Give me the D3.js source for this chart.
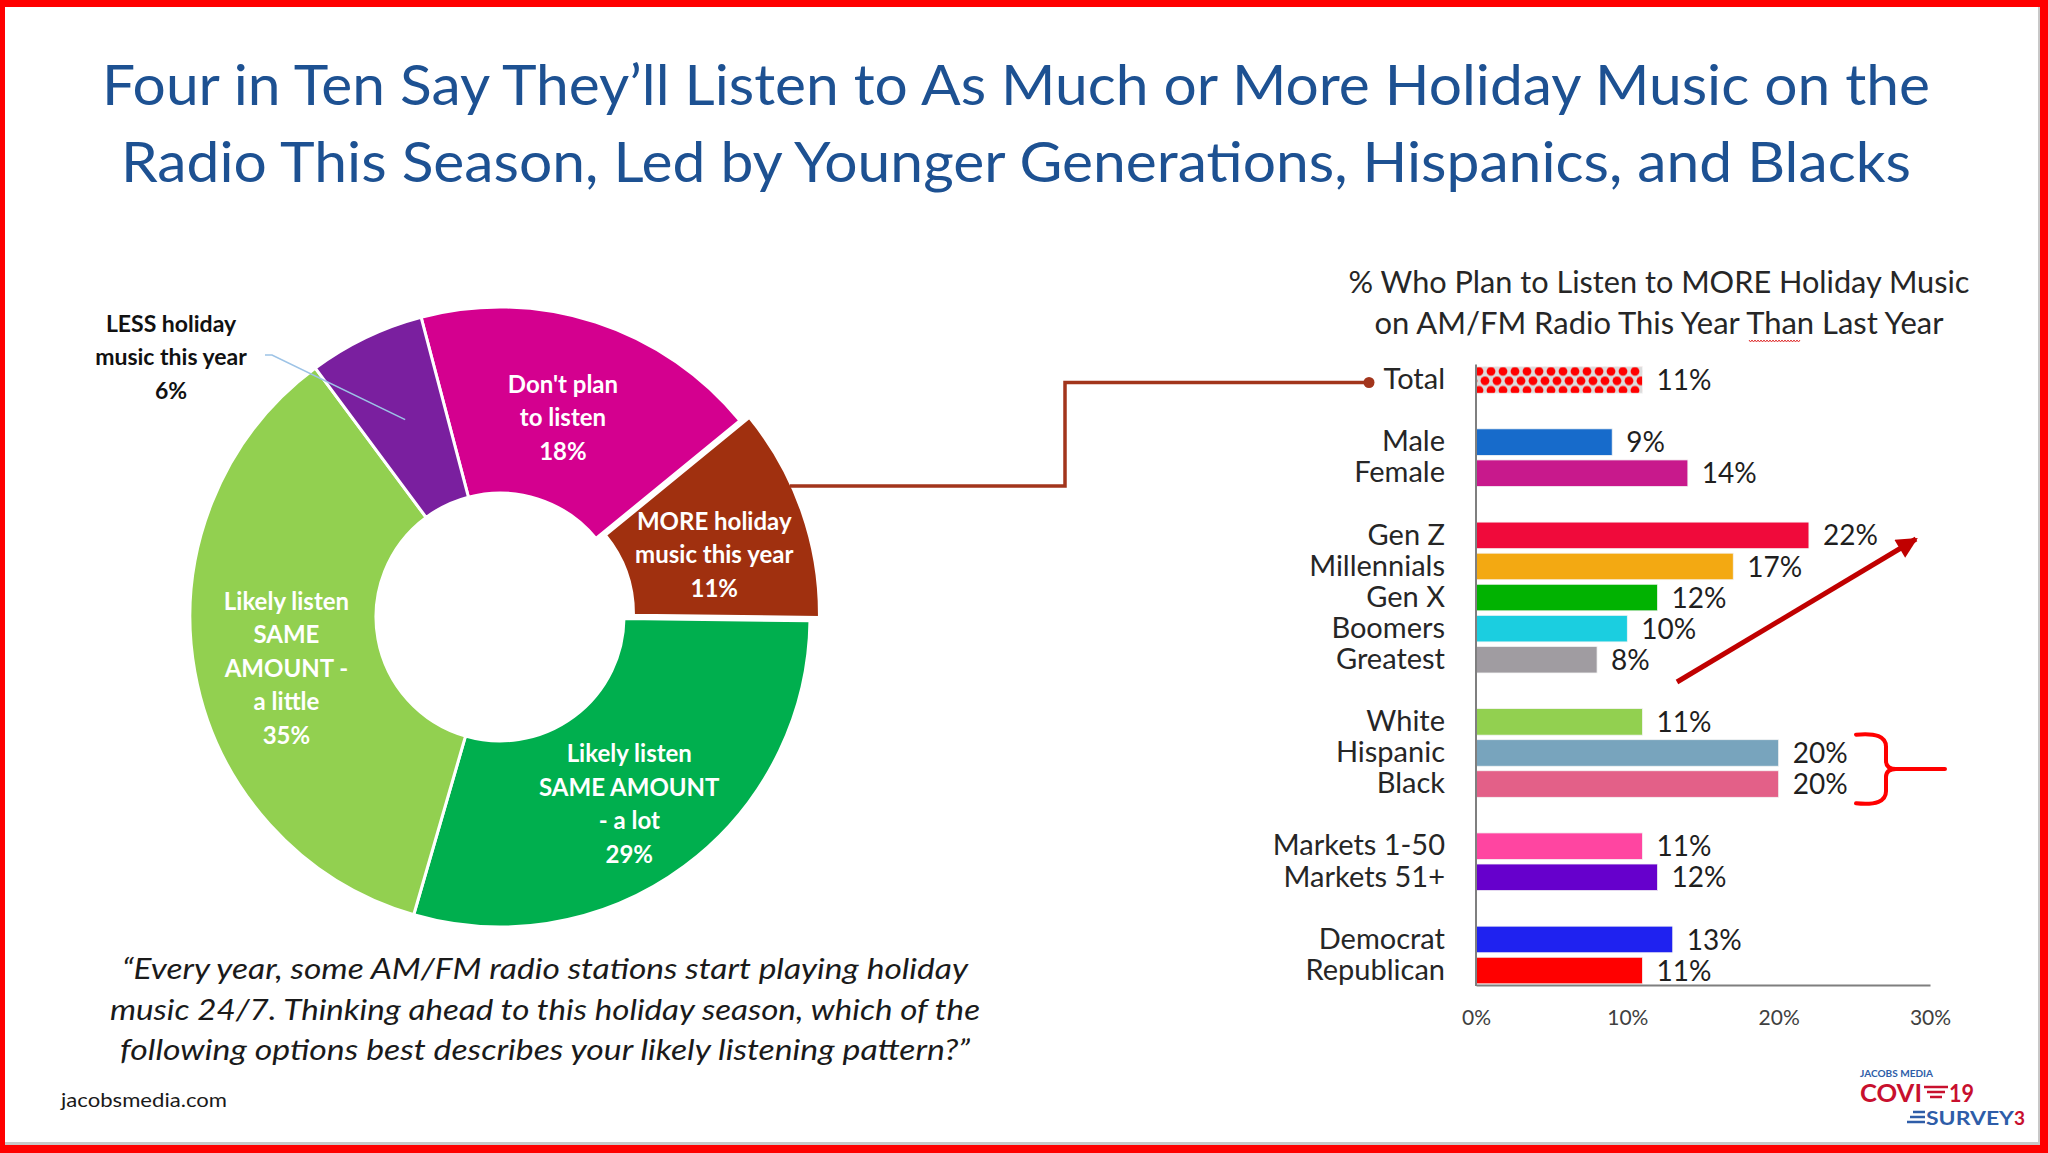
<!DOCTYPE html>
<html>
<head>
<meta charset="utf-8">
<script src="https://cdn.jsdelivr.net/npm/d3@7"></script>
<style>
  html, body { margin: 0; padding: 0; background: #fff; }
  svg { display: block; }
  text { font-family: Lato, "Open Sans", "Noto Sans", sans-serif; }
</style>
</head>
<body>
<svg id="chart" width="2048" height="1153"></svg>
<script>
// ---------------- DATA ----------------
const titleLines = [
  "Four in Ten Say They\u2019ll Listen to As Much or More Holiday Music on the",
  "Radio This Season, Led by Younger Generations, Hispanics, and Blacks"
];
const barTitleLines = [
  "% Who Plan to Listen to MORE Holiday Music",
  "on AM/FM Radio This Year Than Last Year"
];
const quoteLines = [
  "\u201CEvery year, some AM/FM radio stations start playing holiday",
  "music 24/7. Thinking ahead to this holiday season, which of the",
  "following options best describes your likely listening pattern?\u201D"
];

// Donut
const pieNames  = ["Don't plan to listen", "MORE holiday music this year", "Likely listen SAME AMOUNT - a lot", "Likely listen SAME AMOUNT - a little", "LESS holiday music this year"];
const pieValues = [18, 11, 29, 35, 6];
const pieLabelLines = [
  ["Don't plan", "to listen"],
  ["MORE holiday", "music this year"],
  ["Likely listen", "SAME AMOUNT", "- a lot"],
  ["Likely listen", "SAME", "AMOUNT -", "a little"],
  ["LESS holiday", "music this year"]
];
const pieColors = ["#D4008F", "#A0300F", "#00AF4E", "#92D050", "#7A1F9F"];

// Bars
const categories = ["Total", "Male", "Female", "Gen Z", "Millennials", "Gen X", "Boomers", "Greatest",
                    "White", "Hispanic", "Black", "Markets 1-50", "Markets 51+", "Democrat", "Republican"];
const values     = [11, 9, 14, 22, 17, 12, 10, 8, 11, 20, 20, 11, 12, 13, 11];
const groupOf    = [0, 1, 1, 2, 2, 2, 2, 2, 3, 3, 3, 4, 4, 5, 5];
const barColors  = ["url(#dots)", "#176BCB", "#C8198C", "#F00A3B", "#F3A912", "#01B201", "#1BCEE0", "#A09CA1",
                    "#92D050", "#78A4BD", "#E36088", "#FF45A1", "#6600CC", "#1F22F0", "#FF0000"];
const xTicks = [0, 10, 20, 30];

// ---------------- DRAW ----------------
const svg = d3.select("#chart");

// slide frame
svg.append("rect").attr("x", 0).attr("y", 0).attr("width", 2048).attr("height", 1153).attr("fill", "#FF0000");
svg.append("rect").attr("x", 5).attr("y", 7).attr("width", 2035).attr("height", 1138).attr("fill", "#C8C8C8");
svg.append("rect").attr("x", 5).attr("y", 7).attr("width", 2033).attr("height", 1135).attr("fill", "#FFFFFF");

// patterns and markers
const defs = svg.append("defs");
const pat = defs.append("pattern").attr("id", "dots").attr("patternUnits", "userSpaceOnUse")
  .attr("x", 1476).attr("y", 366.5).attr("width", 12).attr("height", 19);
pat.append("rect").attr("width", 12).attr("height", 19).attr("fill", "#DCDCDC");
[[3, 4.8], [9, 14.3], [9, -4.7], [9, 23.8], [-3, 14.3], [15, 4.8]].forEach(p =>
  pat.append("circle").attr("cx", p[0]).attr("cy", p[1]).attr("r", 4.4).attr("fill", "#FF0000"));

defs.append("marker").attr("id", "arrowhead").attr("viewBox", "0 0 10 10")
  .attr("refX", 9).attr("refY", 5).attr("markerWidth", 5).attr("markerHeight", 4.2)
  .attr("orient", "auto").attr("markerUnits", "strokeWidth")
  .append("path").attr("d", "M0,0 L10,5 L0,10 Z").attr("fill", "#C00000");

// Title
svg.append("g").selectAll("text").data(titleLines).join("text")
  .attr("x", 1016).attr("y", (d, i) => 105 + i * 77)
  .attr("text-anchor", "middle")
  .attr("font-size", 56).attr("fill", "#1D5192")
  .attr("textLength", (d, i) => [1828, 1790][i]).attr("lengthAdjust", "spacingAndGlyphs")
  .text(d => d);

// ---------------- DONUT ----------------
const cx = 500, cy = 617, rOuter = 310, rInner = 124;
const start = -14.75 * Math.PI / 180;
const pie = d3.pie().sort(null).startAngle(start).endAngle(start + 2 * Math.PI);
const arcs = pie(pieValues);
const arc = d3.arc().innerRadius(rInner).outerRadius(rOuter);
const labelArc = d3.arc().innerRadius(217).outerRadius(217);
const explodeIdx = 1, explodeDist = 10;
const offsetOf = (d, i) => {
  if (i !== explodeIdx) return [0, 0];
  const a = (d.startAngle + d.endAngle) / 2;
  return [explodeDist * Math.sin(a), -explodeDist * Math.cos(a)];
};

const donut = svg.append("g").attr("transform", `translate(${cx},${cy})`);
donut.selectAll("path").data(arcs).join("path")
  .attr("d", arc)
  .attr("transform", (d, i) => `translate(${offsetOf(d, i)})`)
  .attr("fill", (d, i) => pieColors[i])
  .attr("stroke", "#FFFFFF").attr("stroke-width", 3);

// inside labels (first four slices)
const lineH = 33.5;
arcs.forEach((d, i) => {
  if (i === 4) return;
  const c = labelArc.centroid(d);
  const o = offsetOf(d, i);
  const lines = pieLabelLines[i].concat([pieValues[i] + "%"]);
  const n = lines.length;
  const t = donut.append("text").attr("text-anchor", "middle")
    .attr("font-size", 24).attr("font-weight", 700).attr("fill", "#FFFFFF");
  lines.forEach((ln, k) => {
    t.append("tspan").attr("x", c[0] + o[0] - (i === 0 ? 4 : 0))
      .attr("y", c[1] + o[1] + (i === 0 ? 7 : 13) + (k - (n - 1) / 2) * lineH)
      .attr("dy", "0.35em").text(ln);
  });
});

// LESS label (outside) with leader line
{
  const d = arcs[4];
  const p = d3.arc().innerRadius(219).outerRadius(219).centroid(d);
  donut.append("path")
    .attr("d", `M${p[0]},${p[1]} L${-228},${-262} L${-235},${-262}`)
    .attr("fill", "none").attr("stroke", "#9DC3E6").attr("stroke-width", 1.6);
  const lines = pieLabelLines[4].concat([pieValues[4] + "%"]);
  const t = donut.append("text").attr("text-anchor", "middle")
    .attr("font-size", 23).attr("font-weight", 700).attr("fill", "#111111");
  lines.forEach((ln, k) => {
    t.append("tspan").attr("x", -329).attr("y", -260 + (k - 1) * lineH).attr("dy", "0.35em").text(ln);
  });
}

// Connector from MORE slice to Total bar
svg.append("path")
  .attr("d", "M790,486 H1065 V382.5 H1369")
  .attr("fill", "none").attr("stroke", "#A2351C").attr("stroke-width", 3.5);
svg.append("circle").attr("cx", 1369).attr("cy", 382.5).attr("r", 5.5).attr("fill", "#A2351C");

// Quote
svg.append("g").selectAll("text").data(quoteLines).join("text")
  .attr("x", 545).attr("y", (d, i) => 979 + i * 40.5)
  .attr("text-anchor", "middle")
  .attr("font-size", 29).attr("font-style", "italic").attr("fill", "#1A1A1A")
  .attr("textLength", (d, i) => [846, 870, 850][i]).attr("lengthAdjust", "spacingAndGlyphs")
  .text(d => d);

svg.append("text").attr("x", 61).attr("y", 1107).attr("font-size", 20).attr("fill", "#1A1A1A")
  .attr("textLength", 166).attr("lengthAdjust", "spacingAndGlyphs")
  .text("jacobsmedia.com");

// ---------------- BAR CHART ----------------
svg.append("g").selectAll("text").data(barTitleLines).join("text")
  .attr("x", 1659).attr("y", (d, i) => 293 + i * 41)
  .attr("text-anchor", "middle")
  .attr("font-size", 30).attr("fill", "#262626")
  .attr("textLength", (d, i) => [621, 569][i]).attr("lengthAdjust", "spacingAndGlyphs")
  .text(d => d);
// spell-check squiggle under "Than"
{
  let dPath = "M1749,340";
  for (let xx = 1749; xx < 1800; xx += 3) dPath += ` L${xx + 1.5},${342} L${xx + 3},${340}`;
  svg.append("path").attr("d", dPath).attr("fill", "none").attr("stroke", "#E03030").attr("stroke-width", 1);
}

const slots = [];
categories.forEach((c, i) => {
  if (i > 0 && groupOf[i] !== groupOf[i - 1]) slots.push("gap" + i);
  slots.push(c);
});

const x = d3.scaleLinear().domain([0, 30]).range([1476, 1930]);
const y = d3.scaleBand().domain(slots).range([364.5, 986]).paddingInner(0.145).paddingOuter(0.07);

const barG = svg.append("g");
barG.selectAll("rect").data(categories).join("rect")
  .attr("x", x(0))
  .attr("y", d => y(d))
  .attr("width", (d, i) => x(values[i]) - x(0))
  .attr("height", y.bandwidth())
  .attr("fill", (d, i) => barColors[i])
  .attr("stroke", "#F4F4F4").attr("stroke-width", 0.8);

barG.selectAll("text.val").data(categories).join("text").attr("class", "val")
  .attr("x", (d, i) => x(values[i]) + 14)
  .attr("y", d => y(d) + y.bandwidth() / 2)
  .attr("dy", "0.36em")
  .attr("font-size", 28).attr("fill", "#1F1F1F")
  .text((d, i) => values[i] + "%");

// category axis (only real categories get ticks)
const yAxis = svg.append("g").attr("transform", `translate(${x(0)},0)`)
  .call(d3.axisLeft(y).tickValues(categories).tickSize(0).tickPadding(31));
yAxis.select(".domain").attr("stroke", "#7F7F7F").attr("stroke-width", 2).attr("d", "M0,364.5V986");
yAxis.selectAll("text").attr("font-size", 29).attr("fill", "#262626")
  .attr("font-family", "Lato, 'Open Sans', sans-serif");

// value axis
const xAxis = svg.append("g").attr("transform", "translate(0,985)")
  .call(d3.axisBottom(x).tickValues(xTicks).tickSize(0).tickPadding(25).tickFormat(d => d + "%"));
xAxis.select(".domain").attr("stroke", "#7F7F7F").attr("stroke-width", 2);
xAxis.selectAll("text").attr("font-size", 21).attr("fill", "#404040")
  .attr("font-family", "Lato, 'Open Sans', sans-serif");

// generation arrow
svg.append("line").attr("x1", 1677).attr("y1", 682).attr("x2", 1916).attr("y2", 539)
  .attr("stroke", "#C00000").attr("stroke-width", 5).attr("marker-end", "url(#arrowhead)");

// brace for Hispanic / Black
{
  const yt = y("Hispanic") - 5, yb = y("Black") + y.bandwidth() + 6, ym = (yt + yb) / 2;
  svg.append("path")
    .attr("d", `M1856,${yt} Q1886,${yt - 3} 1886,${yt + 12} L1886,${ym - 8} Q1886,${ym} 1896,${ym}
                Q1886,${ym} 1886,${ym + 8} L1886,${yb - 12} Q1886,${yb + 3} 1856,${yb}
                M1896,${ym} L1945,${ym}`)
    .attr("fill", "none").attr("stroke", "#FF0000").attr("stroke-width", 4).attr("stroke-linecap", "round");
}

// logo
{
  const lf = "'Liberation Sans', Arial, sans-serif";
  const g = svg.append("g");
  g.append("text").attr("x", 1860).attr("y", 1077).attr("font-size", 10).attr("font-weight", 700)
    .attr("font-family", lf)
    .attr("fill", "#2E5DA8").attr("textLength", 73).attr("lengthAdjust", "spacingAndGlyphs").text("JACOBS MEDIA");
  g.append("text").attr("x", 1860).attr("y", 1102).attr("font-size", 24).attr("font-weight", 700)
    .attr("font-family", lf)
    .attr("fill", "#C8102E").attr("textLength", 62).attr("lengthAdjust", "spacingAndGlyphs").text("COVI");
  [0, 1, 2].forEach(k => g.append("line").attr("x1", 1924 + k * 3).attr("x2", 1948 - k * 3)
    .attr("y1", 1087 + k * 5).attr("y2", 1087 + k * 5).attr("stroke", "#C8102E").attr("stroke-width", 2.5));
  g.append("text").attr("x", 1949).attr("y", 1102).attr("font-size", 24).attr("font-weight", 700)
    .attr("font-family", lf)
    .attr("fill", "#C8102E").attr("textLength", 25).attr("lengthAdjust", "spacingAndGlyphs").text("19");
  [0, 1, 2].forEach(k => g.append("line").attr("x1", 1907 + (2 - k) * 3).attr("x2", 1925)
    .attr("y1", 1112 + k * 5).attr("y2", 1112 + k * 5).attr("stroke", "#2E5DA8").attr("stroke-width", 2.5));
  g.append("text").attr("x", 1926).attr("y", 1125).attr("font-size", 19).attr("font-weight", 700)
    .attr("font-family", lf)
    .attr("fill", "#2E5DA8").attr("textLength", 88).attr("lengthAdjust", "spacingAndGlyphs").text("SURVEY");
  g.append("text").attr("x", 2014).attr("y", 1125).attr("font-size", 19).attr("font-weight", 700)
    .attr("font-family", lf)
    .attr("fill", "#C8102E").text("3");
}
</script>
</body>
</html>
